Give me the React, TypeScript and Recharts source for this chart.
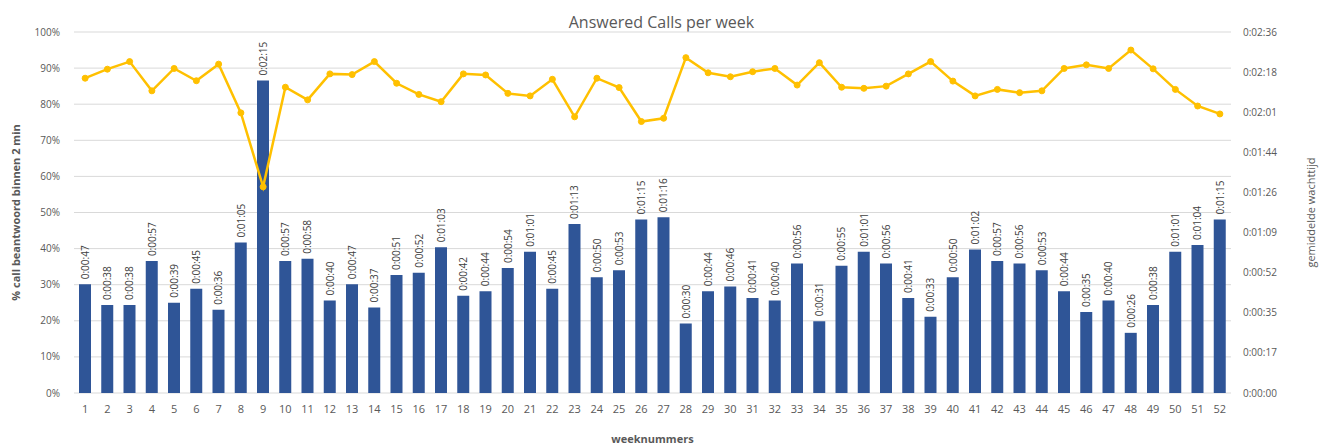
import React from 'react';
import { ComposedChart, Bar, Line, XAxis, YAxis, CartesianGrid, LabelList, Label } from 'recharts';

const weeks = Array.from({ length: 52 }, (_, i) => String(i + 1));

// % calls answered within 2 minutes
const answeredPct = [
  87.2, 89.7, 91.8, 83.7, 89.9, 86.5, 91.1, 77.6, 57.1, 84.7,
  81.2, 88.4, 88.2, 91.8, 85.8, 82.7, 80.7, 88.4, 88.1, 83.0,
  82.3, 86.9, 76.5, 87.2, 84.6, 75.2, 76.1, 92.9, 88.7, 87.6,
  89.0, 89.9, 85.3, 91.5, 84.7, 84.4, 85.0, 88.4, 91.8, 86.4,
  82.3, 84.1, 83.2, 83.7, 89.9, 90.9, 89.9, 95.0, 89.8, 84.1,
  79.5, 77.3,
];

// average wait time in seconds
const waitSeconds = [
  47, 38, 38, 57, 39, 45, 36, 65, 135, 57,
  58, 40, 47, 37, 51, 52, 63, 42, 44, 54,
  61, 45, 73, 50, 53, 75, 76, 30, 44, 46,
  41, 40, 56, 31, 55, 61, 56, 41, 33, 50,
  62, 57, 56, 53, 44, 35, 40, 26, 38, 61,
  64, 75,
];

const leftTicks = [0, 10, 20, 30, 40, 50, 60, 70, 80, 90, 100];
const rightTickLabels = [
  '0:00:00', '0:00:17', '0:00:35', '0:00:52', '0:01:09',
  '0:01:26', '0:01:44', '0:02:01', '0:02:18', '0:02:36',
];
const rightMax = 156;

const data = weeks.map((week, i) => ({
  week,
  pct: answeredPct[i],
  wait: waitSeconds[i],
}));

const font = '"Open Sans", "Liberation Sans", sans-serif';
const rightTicks = rightTickLabels.map((_, i) => (i * rightMax) / (rightTickLabels.length - 1));

const formatTime = (s: number) => {
  const m = Math.floor(s / 60);
  const sec = s % 60;
  return `0:${String(m).padStart(2, '0')}:${String(sec).padStart(2, '0')}`;
};

const renderBarLabel = (props: any) => {
  const { x, y, width, value } = props;
  const cx = Number(x) + Number(width) / 2;
  const ty = Number(y) - 5;
  return (
    <text
      x={cx}
      y={ty}
      transform={`rotate(-90, ${cx}, ${ty})`}
      textAnchor="start"
      dominantBaseline="central"
      fontSize={10}
      fill="#404040"
      fontFamily={font}
    >
      {formatTime(Number(value))}
    </text>
  );
};

export default function App() {
  return (
    <div style={{ position: 'absolute', left: 0, top: 0, width: 1323, height: 446, background: '#fff', fontFamily: font }}>
      <div
        style={{
          position: 'absolute',
          top: 11,
          left: 0,
          width: 1323,
          textAlign: 'center',
          fontSize: 16,
          color: '#595959',
        }}
      >
        Answered Calls per week
      </div>
      <ComposedChart
        width={1323}
        height={446}
        data={data}
        margin={{ top: 32, right: 20, bottom: 25, left: 20 }}
        barCategoryGap="46%"
      >
        <CartesianGrid yAxisId="left" vertical={false} stroke="#d9d9d9" strokeWidth={1} />
        <XAxis
          dataKey="week"
          axisLine={false}
          tickLine={false}
          tickSize={0}
          tickMargin={12}
          height={28}
          interval={0}
          tick={{ fill: '#595959', fontSize: 11, fontFamily: font }}
        >
          <Label
            value="weeknummers"
            position="insideBottom"
            offset={-22}
            style={{ fill: '#595959', fontSize: 11, fontWeight: 'bold', fontFamily: font }}
          />
        </XAxis>
        <YAxis
          yAxisId="left"
          orientation="left"
          domain={[0, 100]}
          ticks={leftTicks}
          tickFormatter={(v: number) => `${v}%`}
          axisLine={false}
          tickLine={false}
          tickSize={0}
          tickMargin={14}
          width={54}
          tick={{ fill: '#595959', fontSize: 10, fontFamily: font }}
        >
          <Label
            value="% call beantwoord binnen 2 min"
            angle={-90}
            position="insideLeft"
            offset={-4}
            style={{ textAnchor: 'middle', fill: '#595959', fontSize: 11, fontWeight: 'bold', fontFamily: font }}
          />
        </YAxis>
        <YAxis
          yAxisId="right"
          orientation="right"
          domain={[0, rightMax]}
          ticks={rightTicks}
          tickFormatter={(v: number) => rightTickLabels[Math.round((v * (rightTickLabels.length - 1)) / rightMax)]}
          axisLine={false}
          tickLine={false}
          tickSize={0}
          tickMargin={12}
          width={72}
          tick={{ fill: '#595959', fontSize: 10, fontFamily: font, textAnchor: 'start' }}
        >
          <Label
            value="gemiddelde wachttijd"
            angle={-90}
            position="insideRight"
            offset={-8}
            style={{ textAnchor: 'middle', fill: '#595959', fontSize: 11, fontFamily: font }}
          />
        </YAxis>
        <Bar yAxisId="right" dataKey="wait" fill="#2F5597" barSize={12} isAnimationActive={false}>
          <LabelList dataKey="wait" content={renderBarLabel} />
        </Bar>
        <Line
          yAxisId="left"
          type="linear"
          dataKey="pct"
          stroke="#FFC000"
          strokeWidth={2.5}
          dot={{ r: 3, fill: '#FFC000', stroke: '#FFC000', strokeWidth: 1 }}
          isAnimationActive={false}
        />
      </ComposedChart>
    </div>
  );
}
